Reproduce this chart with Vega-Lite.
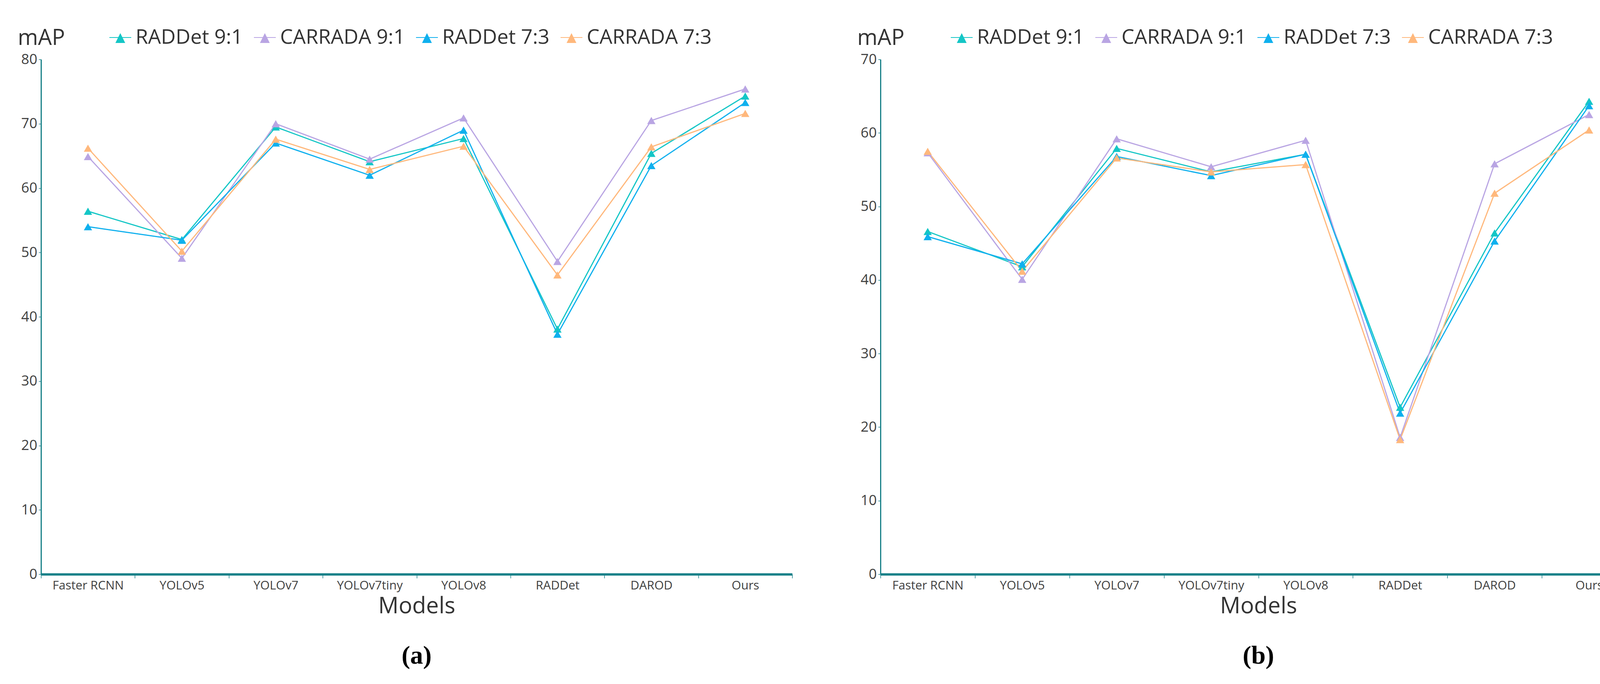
{
  "$schema": "https://vega.github.io/schema/vega-lite/v6.json",
  "background": "white",
  "padding": {"left": 45, "top": 67, "right": 0, "bottom": 30},
  "config": {"view": {"stroke": null}, "font": "Open Sans", "axis": {"grid": false}},
  "datasets": {
    "a": [
      {"model": "Faster RCNN", "series": "RADDet 9:1", "mAP": 56.4},
      {"model": "Faster RCNN", "series": "CARRADA 9:1", "mAP": 64.9},
      {"model": "Faster RCNN", "series": "RADDet 7:3", "mAP": 54.0},
      {"model": "Faster RCNN", "series": "CARRADA 7:3", "mAP": 66.2},
      {"model": "YOLOv5", "series": "RADDet 9:1", "mAP": 52.0},
      {"model": "YOLOv5", "series": "CARRADA 9:1", "mAP": 49.1},
      {"model": "YOLOv5", "series": "RADDet 7:3", "mAP": 51.9},
      {"model": "YOLOv5", "series": "CARRADA 7:3", "mAP": 50.2},
      {"model": "YOLOv7", "series": "RADDet 9:1", "mAP": 69.5},
      {"model": "YOLOv7", "series": "CARRADA 9:1", "mAP": 70.0},
      {"model": "YOLOv7", "series": "RADDet 7:3", "mAP": 67.0},
      {"model": "YOLOv7", "series": "CARRADA 7:3", "mAP": 67.6},
      {"model": "YOLOv7tiny", "series": "RADDet 9:1", "mAP": 64.1},
      {"model": "YOLOv7tiny", "series": "CARRADA 9:1", "mAP": 64.5},
      {"model": "YOLOv7tiny", "series": "RADDet 7:3", "mAP": 62.0},
      {"model": "YOLOv7tiny", "series": "CARRADA 7:3", "mAP": 62.9},
      {"model": "YOLOv8", "series": "RADDet 9:1", "mAP": 67.7},
      {"model": "YOLOv8", "series": "CARRADA 9:1", "mAP": 70.9},
      {"model": "YOLOv8", "series": "RADDet 7:3", "mAP": 69.0},
      {"model": "YOLOv8", "series": "CARRADA 7:3", "mAP": 66.5},
      {"model": "RADDet", "series": "RADDet 9:1", "mAP": 38.1},
      {"model": "RADDet", "series": "CARRADA 9:1", "mAP": 48.6},
      {"model": "RADDet", "series": "RADDet 7:3", "mAP": 37.3},
      {"model": "RADDet", "series": "CARRADA 7:3", "mAP": 46.5},
      {"model": "DAROD", "series": "RADDet 9:1", "mAP": 65.4},
      {"model": "DAROD", "series": "CARRADA 9:1", "mAP": 70.5},
      {"model": "DAROD", "series": "RADDet 7:3", "mAP": 63.5},
      {"model": "DAROD", "series": "CARRADA 7:3", "mAP": 66.4},
      {"model": "Ours", "series": "RADDet 9:1", "mAP": 74.3},
      {"model": "Ours", "series": "CARRADA 9:1", "mAP": 75.4},
      {"model": "Ours", "series": "RADDet 7:3", "mAP": 73.3},
      {"model": "Ours", "series": "CARRADA 7:3", "mAP": 71.6}
    ],
    "b": [
      {"model": "Faster RCNN", "series": "RADDet 9:1", "mAP": 46.6},
      {"model": "Faster RCNN", "series": "CARRADA 9:1", "mAP": 57.3},
      {"model": "Faster RCNN", "series": "RADDet 7:3", "mAP": 45.9},
      {"model": "Faster RCNN", "series": "CARRADA 7:3", "mAP": 57.5},
      {"model": "YOLOv5", "series": "RADDet 9:1", "mAP": 41.8},
      {"model": "YOLOv5", "series": "CARRADA 9:1", "mAP": 40.1},
      {"model": "YOLOv5", "series": "RADDet 7:3", "mAP": 42.2},
      {"model": "YOLOv5", "series": "CARRADA 7:3", "mAP": 41.2},
      {"model": "YOLOv7", "series": "RADDet 9:1", "mAP": 57.9},
      {"model": "YOLOv7", "series": "CARRADA 9:1", "mAP": 59.2},
      {"model": "YOLOv7", "series": "RADDet 7:3", "mAP": 56.8},
      {"model": "YOLOv7", "series": "CARRADA 7:3", "mAP": 56.6},
      {"model": "YOLOv7tiny", "series": "RADDet 9:1", "mAP": 54.7},
      {"model": "YOLOv7tiny", "series": "CARRADA 9:1", "mAP": 55.4},
      {"model": "YOLOv7tiny", "series": "RADDet 7:3", "mAP": 54.2},
      {"model": "YOLOv7tiny", "series": "CARRADA 7:3", "mAP": 54.7},
      {"model": "YOLOv8", "series": "RADDet 9:1", "mAP": 57.1},
      {"model": "YOLOv8", "series": "CARRADA 9:1", "mAP": 59.0},
      {"model": "YOLOv8", "series": "RADDet 7:3", "mAP": 57.1},
      {"model": "YOLOv8", "series": "CARRADA 7:3", "mAP": 55.7},
      {"model": "RADDet", "series": "RADDet 9:1", "mAP": 22.7},
      {"model": "RADDet", "series": "CARRADA 9:1", "mAP": 18.6},
      {"model": "RADDet", "series": "RADDet 7:3", "mAP": 21.9},
      {"model": "RADDet", "series": "CARRADA 7:3", "mAP": 18.3},
      {"model": "DAROD", "series": "RADDet 9:1", "mAP": 46.4},
      {"model": "DAROD", "series": "CARRADA 9:1", "mAP": 55.8},
      {"model": "DAROD", "series": "RADDet 7:3", "mAP": 45.3},
      {"model": "DAROD", "series": "CARRADA 7:3", "mAP": 51.8},
      {"model": "Ours", "series": "RADDet 9:1", "mAP": 64.3},
      {"model": "Ours", "series": "CARRADA 9:1", "mAP": 62.5},
      {"model": "Ours", "series": "RADDet 7:3", "mAP": 63.7},
      {"model": "Ours", "series": "CARRADA 7:3", "mAP": 60.4}
    ]
  },
  "spacing": 165,
  "resolve": {"scale": {"color": "independent", "y": "independent"}, "legend": {"color": "independent"}},
  "hconcat": [
    {
      "data": {"name": "a"},
      "width": 1923,
      "height": 1318,
      "title": {"text": "(a)", "orient": "bottom", "anchor": "middle", "font": "Liberation Serif", "fontSize": 66, "fontWeight": "bold", "color": "#000000", "offset": 66},
      "encoding": {
        "x": {
          "field": "model", "type": "nominal",
          "sort": ["Faster RCNN", "YOLOv5", "YOLOv7", "YOLOv7tiny", "YOLOv8", "RADDet", "DAROD", "Ours"],
          "scale": {"paddingInner": 0, "paddingOuter": 0},
          "axis": {"title": "Models", "titleFontSize": 58, "titleFontWeight": "normal", "titleColor": "#333333", "titlePadding": 9,
                   "labelAngle": 0, "labelFontSize": 31, "labelColor": "#404040", "labelPadding": 4, "labelLimit": 0,
                   "tickBand": "extent", "tickSize": 10, "tickWidth": 1.5, "tickColor": "#188088",
                   "domainColor": "#188088", "domainWidth": 6}
        },
        "y": {
          "field": "mAP", "type": "quantitative",
          "scale": {"domain": [0, 80]},
          "axis": {"title": "mAP", "titleAngle": 0, "titleX": -60, "titleY": -55, "titleAlign": "left", "titleBaseline": "middle",
                   "titleFontSize": 56, "titleFontWeight": "normal", "titleColor": "#333333",
                   "values": [0, 10, 20, 30, 40, 50, 60, 70, 80],
                   "labelFontSize": 36, "labelColor": "#404040", "labelPadding": 4,
                   "tickSize": 6, "tickWidth": 1.5, "tickColor": "#188088",
                   "domainColor": "#188088", "domainWidth": 3}
        },
        "color": {
          "field": "series", "type": "nominal",
          "scale": {"domain": ["RADDet 9:1", "CARRADA 9:1", "RADDet 7:3", "CARRADA 7:3"], "range": ["#14c6c6", "#b9a5e3", "#0fb0ee", "#ffb87c"]},
          "legend": {"title": null, "orient": "none", "legendX": 174, "legendY": -85, "direction": "horizontal", "padding": 0,
                     "symbolType": "M-1,0H1M0,-0.32L0.39,0.46L-0.39,0.46Z", "symbolSize": 3136, "symbolStrokeWidth": 2,
                     "labelFontSize": 52, "labelColor": "#333333", "labelOffset": 10, "columnPadding": 24, "labelLimit": 0}
        }
      },
      "layer": [
        {"mark": {"type": "line", "strokeWidth": 3}},
        {"mark": {"type": "point", "shape": "triangle-up", "filled": true, "size": 450, "opacity": 1}}
      ]
    },
    {
      "data": {"name": "b"},
      "width": 1935,
      "height": 1318,
      "title": {"text": "(b)", "orient": "bottom", "anchor": "middle", "font": "Liberation Serif", "fontSize": 66, "fontWeight": "bold", "color": "#000000", "offset": 66},
      "encoding": {
        "x": {
          "field": "model", "type": "nominal",
          "sort": ["Faster RCNN", "YOLOv5", "YOLOv7", "YOLOv7tiny", "YOLOv8", "RADDet", "DAROD", "Ours"],
          "scale": {"paddingInner": 0, "paddingOuter": 0},
          "axis": {"title": "Models", "titleFontSize": 58, "titleFontWeight": "normal", "titleColor": "#333333", "titlePadding": 9,
                   "labelAngle": 0, "labelFontSize": 31, "labelColor": "#404040", "labelPadding": 4, "labelLimit": 0,
                   "tickBand": "extent", "tickSize": 10, "tickWidth": 1.5, "tickColor": "#188088",
                   "domainColor": "#188088", "domainWidth": 6}
        },
        "y": {
          "field": "mAP", "type": "quantitative",
          "scale": {"domain": [0, 70]},
          "axis": {"title": "mAP", "titleAngle": 0, "titleX": -60, "titleY": -55, "titleAlign": "left", "titleBaseline": "middle",
                   "titleFontSize": 56, "titleFontWeight": "normal", "titleColor": "#333333",
                   "values": [0, 10, 20, 30, 40, 50, 60, 70],
                   "labelFontSize": 36, "labelColor": "#404040", "labelPadding": 4,
                   "tickSize": 6, "tickWidth": 1.5, "tickColor": "#188088",
                   "domainColor": "#188088", "domainWidth": 3}
        },
        "color": {
          "field": "series", "type": "nominal",
          "scale": {"domain": ["RADDet 9:1", "CARRADA 9:1", "RADDet 7:3", "CARRADA 7:3"], "range": ["#14c6c6", "#b9a5e3", "#0fb0ee", "#ffb87c"]},
          "legend": {"title": null, "orient": "none", "legendX": 179, "legendY": -85, "direction": "horizontal", "padding": 0,
                     "symbolType": "M-1,0H1M0,-0.32L0.39,0.46L-0.39,0.46Z", "symbolSize": 3136, "symbolStrokeWidth": 2,
                     "labelFontSize": 52, "labelColor": "#333333", "labelOffset": 10, "columnPadding": 24, "labelLimit": 0}
        }
      },
      "layer": [
        {"mark": {"type": "line", "strokeWidth": 3}},
        {"mark": {"type": "point", "shape": "triangle-up", "filled": true, "size": 450, "opacity": 1}}
      ]
    }
  ]
}
